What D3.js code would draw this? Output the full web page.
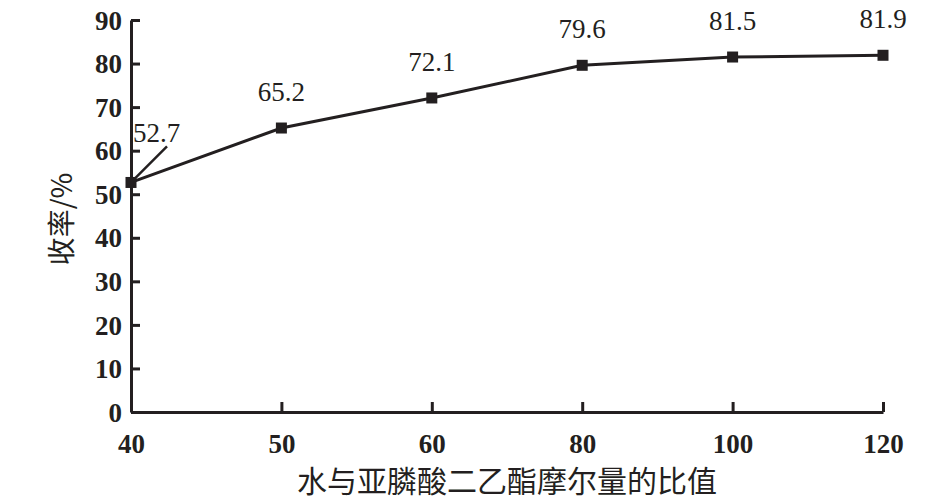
<!DOCTYPE html>
<html>
<head>
<meta charset="utf-8">
<script src="https://cdn.jsdelivr.net/npm/d3@7"></script>
<style>
  body { margin: 0; background: #fff; }
  svg text { fill: #231f20; }
</style>
</head>
<body>
<div id="chart"></div>
<script>
// ratio of water to diethyl phosphite (category axis)
const ratios = ["40", "50", "60", "80", "100", "120"]
// yield %
const yields = [52.7, 65.2, 72.1, 79.6, 81.5, 81.9]
const yTicks = [0, 10, 20, 30, 40, 50, 60, 70, 80, 90]

const width = 947, height = 500
const ink = "#231f20"
const serif = "'Liberation Serif', 'Times New Roman', serif"
const cjk = "'Noto Sans CJK SC', sans-serif"

const svg = d3.select("#chart")
    .append("svg")
    .attr("width", width)
    .attr("height", height)

var x = d3.scalePoint()
    .domain(ratios)
    .range([131, 883])
    .padding(0)

var y = d3.scaleLinear()
    .domain([0, 90])
    .range([412, 20])

// y axis, ticks pointing inward
const yAxis = svg.append("g")
    .attr("transform", "translate(" + x(ratios[0]) + ",0)")
    .call(d3.axisLeft(y).tickValues(yTicks).tickSizeInner(-9).tickSizeOuter(0).tickPadding(9))
yAxis.select(".domain").attr("stroke", ink).attr("stroke-width", 3)
yAxis.selectAll(".tick line").attr("stroke", ink).attr("stroke-width", 3)
yAxis.selectAll(".tick text")
    .style("font-family", serif)
    .style("font-size", "27px")
    .style("font-weight", "bold")
    .attr("dy", "0.34em")

// x axis
const xAxis = svg.append("g")
    .attr("transform", "translate(0," + y(0) + ")")
    .call(d3.axisBottom(x).tickSizeInner(-10).tickSizeOuter(0).tickPadding(22))
xAxis.select(".domain").attr("stroke", ink).attr("stroke-width", 3)
xAxis.selectAll(".tick line").attr("stroke", ink).attr("stroke-width", 3)
xAxis.selectAll(".tick text")
    .style("font-family", serif)
    .style("font-size", "27px")
    .style("font-weight", "bold")

// the line
const points = ratios.map((r, i) => ({ r: r, v: yields[i] }))

svg.append("path")
    .datum(points)
    .attr("fill", "none")
    .attr("stroke", ink)
    .attr("stroke-width", 3)
    .attr("d", d3.line().x(d => x(d.r)).y(d => y(d.v)))

const m = 11
svg.append("g")
    .selectAll("rect")
    .data(points)
    .enter()
    .append("rect")
    .attr("x", d => x(d.r) - m / 2)
    .attr("y", d => y(d.v) - m / 2)
    .attr("width", m)
    .attr("height", m)
    .attr("fill", ink)

// value labels
svg.append("g")
    .selectAll("text")
    .data(points.slice(1))
    .enter()
    .append("text")
    .attr("x", d => x(d.r))
    .attr("y", d => y(d.v) - 27)
    .attr("text-anchor", "middle")
    .style("font-family", serif)
    .style("font-size", "27px")
    .text(d => d.v)

// first label sits up-right with a leader line
const p0 = points[0]
svg.append("line")
    .attr("x1", x(p0.r))
    .attr("y1", y(p0.v))
    .attr("x2", x(p0.r) + 36)
    .attr("y2", y(p0.v) - 36)
    .attr("stroke", ink)
    .attr("stroke-width", 2.5)
svg.append("text")
    .attr("x", x(p0.r) + 2)
    .attr("y", y(p0.v) - 40)
    .attr("text-anchor", "start")
    .style("font-family", serif)
    .style("font-size", "27px")
    .text(p0.v)

// axis titles
svg.append("text")
    .attr("x", 507)
    .attr("y", 492)
    .attr("text-anchor", "middle")
    .style("font-family", cjk)
    .style("font-size", "30px")
    .text("水与亚膦酸二乙酯摩尔量的比值")

svg.append("text")
    .attr("transform", "translate(72,219) rotate(-90)")
    .attr("text-anchor", "middle")
    .style("font-family", cjk)
    .style("font-size", "28px")
    .text("收率/%")
</script>
</body>
</html>
